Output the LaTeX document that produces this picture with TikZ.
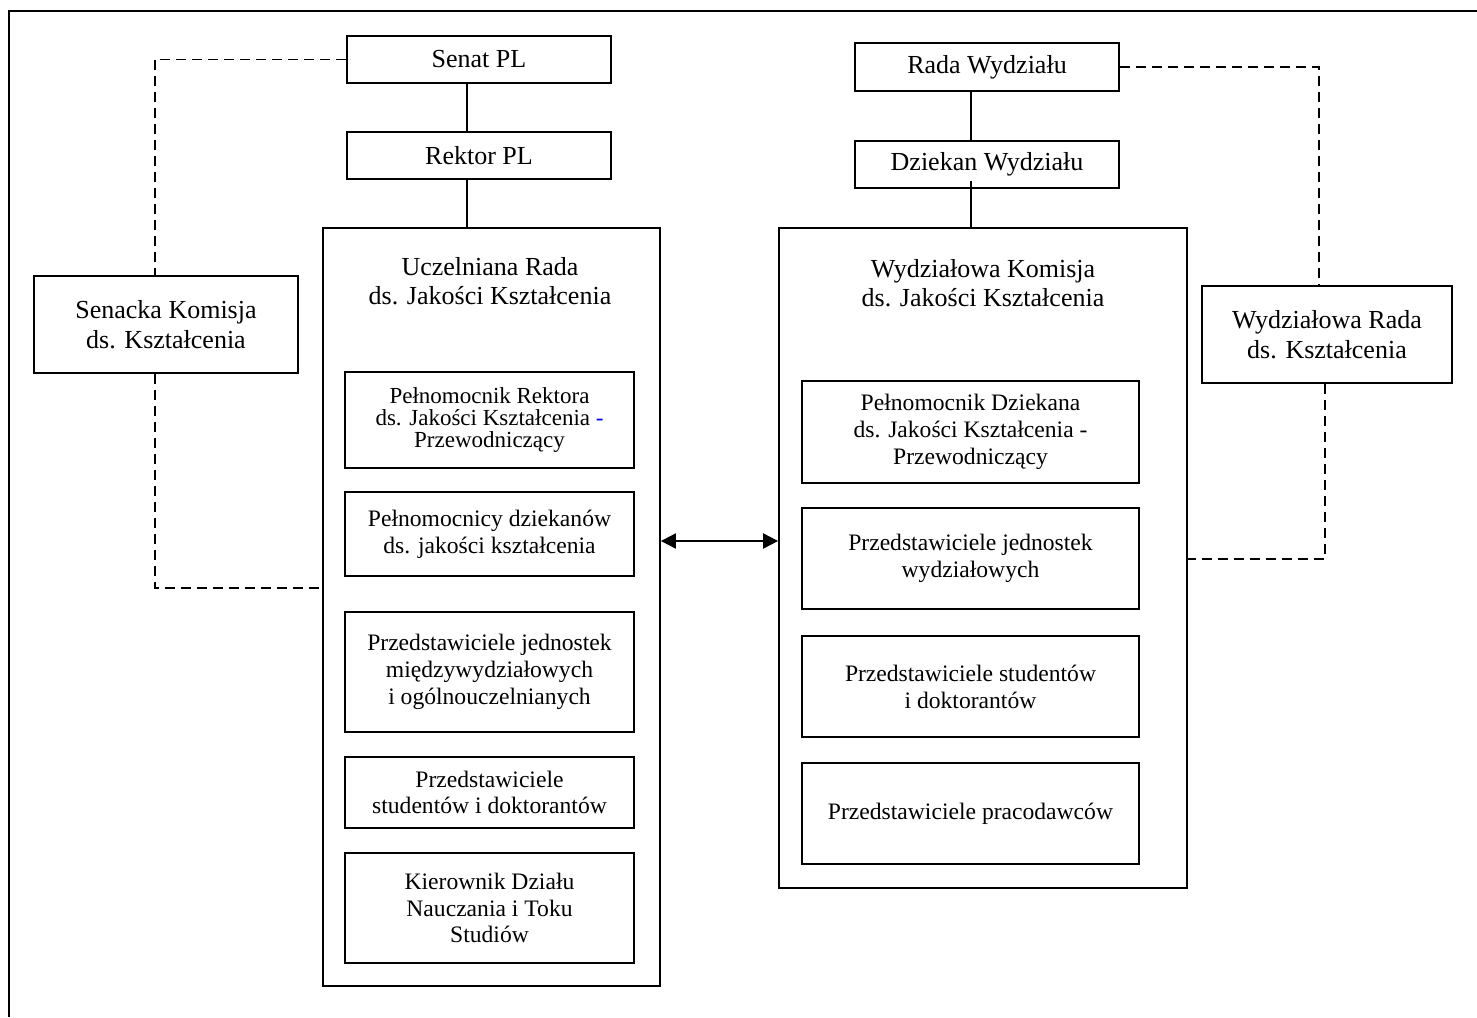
\documentclass[tikz,border=0pt]{standalone}
\usepackage{fontspec}
\setmainfont{Liberation Serif}
\usepackage{xcolor}
\usepackage{tikz}
\usetikzlibrary{arrows.meta}

\tikzset{
  box/.style={draw, line width=0.9pt, inner sep=0pt, align=center, font=\fontsize{13}{15}\selectfont},
  subbox/.style={box, font=\fontsize{11.8}{13.4}\selectfont},
  dashline/.style={line width=0.8pt, dash pattern=on 5pt off 3pt},
  solidline/.style={line width=0.9pt}
}

\begin{document}
\begin{tikzpicture}[x=0.5pt,y=-0.5pt]
\useasboundingbox (0,0) rectangle (1477,1017);
\draw[line width=1pt] (9,1017) -- (9,11) -- (1477,11);

\node[box, minimum width=132pt, minimum height=23.5pt] (senat) at (479,59.5) {Senat PL};
\node[box, minimum width=132pt, minimum height=23.5pt] (rektor) at (479,155.5) {Rektor PL};
\node[box, minimum width=168.5pt, minimum height=379pt] (ucz) at (491.5,607) {};
\node[align=center, font=\fontsize{13}{14.5}\selectfont] (uczT) at (490,281) {Uczelniana Rada\\ds. Jakości Kształcenia};
\node[subbox, minimum width=144.5pt, minimum height=48pt, font=\fontsize{11.5}{11.2}\selectfont] (l1) at (489.5,420) {Pełnomocnik Rektora\\ds. Jakości Kształcenia {\color{blue}-}\\Przewodniczący};
\node[subbox, minimum width=144.5pt, minimum height=42pt] (l2) at (489.5,534) {Pełnomocnicy dziekanów\\ds. jakości kształcenia};
\node[subbox, minimum width=144.5pt, minimum height=60pt] (l3) at (489.5,672) {Przedstawiciele jednostek\\międzywydziałowych\\i ogólnouczelnianych};
\node[subbox, minimum width=144.5pt, minimum height=35.5pt] (l4) at (489.5,792.5) {Przedstawiciele\\studentów i doktorantów};
\node[subbox, minimum width=144.5pt, minimum height=55pt] (l5) at (489.5,908) {Kierownik Działu\\Nauczania i Toku\\Studiów};
\node[box, minimum width=132pt, minimum height=48.5pt] (senacka) at (166,324.5) {Senacka Komisja\\ds. Kształcenia};

\node[box, minimum width=132pt, minimum height=24pt] (rada) at (987,67) {Rada Wydziału};
\node[box, minimum width=132pt, minimum height=23.5pt] (dziekan) at (987,164.5) {Dziekan Wydziału};
\node[box, minimum width=204pt, minimum height=330pt] (wyd) at (983,558) {};
\node[align=center, font=\fontsize{13}{14.5}\selectfont] (wydT) at (983,283) {Wydziałowa Komisja\\ds. Jakości Kształcenia};
\node[subbox, minimum width=168.5pt, minimum height=51pt] (r1) at (970.5,432) {Pełnomocnik Dziekana\\ds. Jakości Kształcenia -\\Przewodniczący};
\node[subbox, minimum width=168.5pt, minimum height=50.5pt] (r2) at (970.5,558.5) {Przedstawiciele jednostek\\wydziałowych};
\node[subbox, minimum width=168.5pt, minimum height=50.5pt] (r3) at (970.5,686.5) {Przedstawiciele studentów\\i doktorantów};
\node[subbox, minimum width=168.5pt, minimum height=50.5pt] (r4) at (970.5,813.5) {Przedstawiciele pracodawców};
\node[box, minimum width=125pt, minimum height=48.5pt] (wrada) at (1327,334.5) {Wydziałowa Rada\\ds. Kształcenia};

\coordinate (lowL) at (155,588);
\coordinate (lowR) at (1325,559);
\coordinate (mid) at (720,541);

\draw[solidline] ([xshift=-6pt]senat.south) -- ([xshift=-6pt]rektor.north);
\draw[solidline] ([xshift=-6pt]rektor.south) -- ([xshift=-6pt]rektor.south |- ucz.north);
\draw[solidline] ([xshift=-8pt]rada.south) -- ([xshift=-8pt]dziekan.north);
\draw[solidline] ([xshift=-8pt,yshift=4pt]dziekan.south) -- ([xshift=-8pt]dziekan.south |- wyd.north);
\draw[dashline] (senat.west) -| ([xshift=-5.5pt]senacka.north);
\draw[dashline] (senacka.south -| lowL) -- (lowL) -- (lowL -| ucz.west);
\draw[dashline] (rada.east) -| ([xshift=-4pt]wrada.north);
\draw[dashline] (wrada.south -| lowR) -- (lowR) -- (lowR -| wyd.east);
\draw[line width=1pt, {Triangle[length=7.5pt,width=7.5pt]}-{Triangle[length=7.5pt,width=7.5pt]}] (ucz.east |- mid) -- (wyd.west |- mid);
\end{tikzpicture}
\end{document}
